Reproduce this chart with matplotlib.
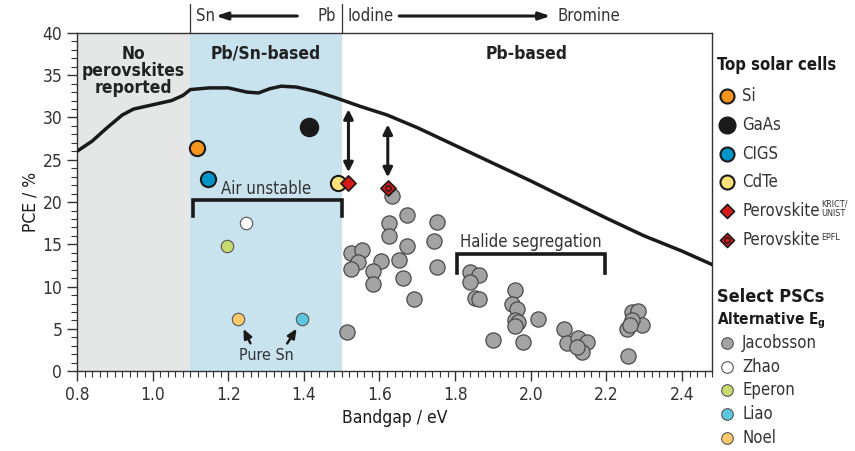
import matplotlib

matplotlib.use("Agg")
import matplotlib.pyplot as plt
from matplotlib import font_manager
from matplotlib.ticker import MultipleLocator
from matplotlib.transforms import blended_transform_factory

# Shockley-Queisser style limit curve
sq_eg = [0.80, 0.84, 0.88, 0.92, 0.95, 1.00, 1.05, 1.08, 1.10, 1.15, 1.20, 1.25,
         1.28, 1.31, 1.34, 1.38, 1.43, 1.48, 1.55, 1.62, 1.70, 1.80, 1.90, 2.00,
         2.10, 2.20, 2.30, 2.40, 2.48]
sq_pce = [26.0, 27.2, 28.8, 30.3, 31.0, 31.5, 32.0, 32.6, 33.3, 33.5, 33.5, 33.0,
          32.9, 33.4, 33.7, 33.6, 33.1, 32.4, 31.3, 30.3, 28.8, 26.7, 24.6, 22.5,
          20.3, 18.1, 16.0, 14.2, 12.6]

# Top solar cells
top_names = ["Si", "GaAs", "CIGS", "CdTe", "KRICT", "EPFL"]
top_eg = [1.118, 1.414, 1.147, 1.491, 1.518, 1.622]
top_pce = [26.4, 28.9, 22.7, 22.2, 22.2, 21.7]

# Select PSCs (Jacobsson)
jac_eg = [1.633, 1.672, 1.624, 1.624, 1.752, 1.743, 1.672, 1.524, 1.555, 1.544,
          1.524, 1.603, 1.584, 1.653, 1.752, 1.584, 1.662, 1.692, 1.515,
          1.840, 1.862, 1.840, 1.853, 1.862, 1.959, 1.950, 1.963, 1.959, 1.967,
          1.959, 2.018, 1.901, 1.979, 2.088, 2.095, 2.126, 2.148, 2.135, 2.122,
          2.267, 2.285, 2.294, 2.267, 2.254, 2.262, 2.256]
jac_pce = [20.7, 18.5, 17.5, 16.0, 17.6, 15.4, 14.8, 14.0, 14.3, 12.9,
           12.1, 13.05, 11.8, 13.2, 12.3, 10.3, 11.0, 8.5, 4.65,
           11.75, 11.4, 10.6, 8.7, 8.5, 9.6, 7.9, 7.4, 6.1, 5.8,
           5.4, 6.2, 3.7, 3.5, 5.0, 3.3, 3.9, 3.5, 2.3, 2.9,
           7.0, 7.1, 5.5, 6.0, 5.0, 5.5, 1.8]

# Other alternative-bandgap PSCs
alt_names = ["Zhao", "Eperon", "Liao", "Noel"]
alt_eg = [1.247, 1.198, 1.396, 1.227]
alt_pce = [17.5, 14.8, 6.15, 6.2]

x_ticks = [0.8, 1.0, 1.2, 1.4, 1.6, 1.8, 2.0, 2.2, 2.4]
y_ticks = [0, 5, 10, 15, 20, 25, 30, 35, 40]

names = {f.name for f in font_manager.fontManager.ttflist}
FONT = "Liberation Sans Narrow" if "Liberation Sans Narrow" in names else "DejaVu Sans"
plt.rcParams["font.family"] = FONT
plt.rcParams["font.stretch"] = "condensed"
plt.rcParams["font.size"] = 11

TXT = "#333333"
top_style = {
    "Si": dict(marker="o", s=120, fc="#F7941D", ec="#1a1a1a", lw=1.5),
    "GaAs": dict(marker="o", s=170, fc="#1a1a1a", ec="#1a1a1a", lw=1.0),
    "CIGS": dict(marker="o", s=120, fc="#0095C6", ec="#1a1a1a", lw=1.5),
    "CdTe": dict(marker="o", s=120, fc="#FFE07A", ec="#1a1a1a", lw=1.5),
    "KRICT": dict(marker="D", s=60, fc="#D7191C", ec="#1a1a1a", lw=1.2),
    "EPFL": dict(marker="D", s=60, fc="#D7191C", ec="#1a1a1a", lw=1.2),
}
alt_colors = {"Zhao": "#FFFFFF", "Eperon": "#C8DB6E", "Liao": "#5CC6DE", "Noel": "#FDC96C"}
JAC_FC = "#A3A3A3"
JAC_EC = "#4a4a4a"

fig = plt.figure(figsize=(8.55, 4.51), dpi=100)
ax = fig.add_axes([0.090, 0.177, 0.743, 0.750])

ax.set_xlim(0.8, 2.48)
ax.set_ylim(0, 40)

ax.axvspan(0.8, 1.1, color="#E5E6E6", zorder=0, lw=0)
ax.axvspan(1.1, 1.5, color="#C9E3EE", zorder=0, lw=0)

ax.plot(sq_eg, sq_pce, color="#1a1a1a", lw=2.5, zorder=3, solid_capstyle="round")

# gaps to the limit
for xg, y0, y1 in [(1.518, 23.2, 31.3), (1.622, 22.6, 29.5)]:
    ax.annotate("", xy=(xg, y1), xytext=(xg, y0),
                arrowprops=dict(arrowstyle="<|-|>,head_width=0.25,head_length=0.5",
                                color="#1a1a1a", lw=2.2), zorder=4)

ax.scatter(jac_eg, jac_pce, s=120, facecolor=JAC_FC, edgecolor=JAC_EC, lw=0.9, zorder=5)
for n, xv, yv in zip(alt_names, alt_eg, alt_pce):
    ax.scatter([xv], [yv], s=80, facecolor=alt_colors[n], edgecolor="#555555", lw=0.8, zorder=5)
for n, xv, yv in zip(top_names, top_eg, top_pce):
    st = top_style[n]
    ax.scatter([xv], [yv], s=st["s"], marker=st["marker"], facecolor=st["fc"],
               edgecolor=st["ec"], lw=st["lw"], zorder=6)
    if n == "EPFL":
        ax.scatter([xv], [yv], s=14, marker="o", facecolor="#D7191C",
                   edgecolor="#1a1a1a", lw=1.0, zorder=7)


def bracket(x0, x1, ytop, ybot):
    ax.plot([x0, x0, x1, x1], [ybot, ytop, ytop, ybot], color="#1a1a1a", lw=2.6,
            solid_joinstyle="miter", zorder=4)


bracket(1.108, 1.500, 20.3, 18.3)
ax.text(1.30, 21.6, "Air unstable", ha="center", va="center", fontsize=12, color=TXT)
bracket(1.804, 2.197, 13.85, 11.6)
ax.text(2.0, 15.3, "Halide segregation", ha="center", va="center", fontsize=12, color=TXT)

ax.text(1.30, 1.9, "Pure Sn", ha="center", va="center", fontsize=11.5, color=TXT)
for (xa, ya), (xb, yb) in [((1.262, 3.0), (1.237, 5.3)), ((1.352, 3.0), (1.385, 5.3))]:
    ax.annotate("", xy=(xb, yb), xytext=(xa, ya),
                arrowprops=dict(arrowstyle="-|>,head_width=0.22,head_length=0.5",
                                color="#1a1a1a", lw=1.8))

ax.text(0.95, 38.6, "No\nperovskites\nreported", ha="center", va="top", fontsize=12.5,
        fontweight="bold", color="#222222", linespacing=0.95)
ax.text(1.30, 38.6, "Pb/Sn-based", ha="center", va="top", fontsize=12.5,
        fontweight="bold", color="#222222")
ax.text(1.99, 38.6, "Pb-based", ha="center", va="top", fontsize=12.5,
        fontweight="bold", color="#222222")

# header above the axes
tr = blended_transform_factory(ax.transData, ax.transAxes)
for xs in [1.1, 1.5]:
    ax.plot([xs, xs], [1.0, 1.085], transform=tr, color=TXT, lw=0.9, clip_on=False)
yh = 1.05
ax.text(1.115, yh, "Sn", transform=tr, ha="left", va="center", fontsize=12, color=TXT)
ax.text(1.485, yh, "Pb", transform=tr, ha="right", va="center", fontsize=12, color=TXT)
ax.annotate("", xy=(1.16, yh), xytext=(1.39, yh), xycoords=tr, textcoords=tr,
            arrowprops=dict(arrowstyle="-|>,head_width=0.2,head_length=0.6",
                            color="#1a1a1a", lw=2.2))
ax.text(1.515, yh, "Iodine", transform=tr, ha="left", va="center", fontsize=12, color=TXT)
ax.text(2.07, yh, "Bromine", transform=tr, ha="left", va="center", fontsize=12, color=TXT)
ax.annotate("", xy=(2.06, yh), xytext=(1.645, yh), xycoords=tr, textcoords=tr,
            arrowprops=dict(arrowstyle="-|>,head_width=0.2,head_length=0.6",
                            color="#1a1a1a", lw=2.2))

ax.set_xticks(x_ticks)
ax.set_xticklabels([f"{v:.1f}" for v in x_ticks])
ax.set_yticks(y_ticks)
ax.xaxis.set_minor_locator(MultipleLocator(0.02))
ax.yaxis.set_minor_locator(MultipleLocator(1))
ax.tick_params(which="major", direction="out", length=7, width=1.0, labelsize=12.5,
               colors=TXT)
ax.tick_params(which="minor", direction="out", length=4, width=0.8, colors=TXT)
ax.tick_params(top=False, right=False, which="both")
for sp in ax.spines.values():
    sp.set_color(TXT)
    sp.set_linewidth(1.0)
ax.set_xlabel("Bandgap / eV", fontsize=12.5, color="#1a1a1a", labelpad=4)
ax.set_ylabel("PCE / %", fontsize=12.5, color="#1a1a1a", labelpad=2)

# legend panel (pixel coordinates)
lax = fig.add_axes([0, 0, 1, 1], facecolor="none")
lax.set_xlim(0, 855)
lax.set_ylim(451, 0)
lax.axis("off")

MX, TX = 727, 742
lax.text(717, 65, "Top solar cells", ha="left", va="center", fontsize=12,
         fontweight="bold", color="#1a1a1a")
top_labels = ["Si", "GaAs", "CIGS", "CdTe", "Perovskite", "Perovskite"]
renderer = fig.canvas.get_renderer()
for i, (n, lab) in enumerate(zip(top_names, top_labels)):
    yy = 96 + i * 28.8
    st = top_style[n]
    lax.scatter([MX], [yy], s=st["s"] * 0.85, marker=st["marker"], facecolor=st["fc"],
                edgecolor=st["ec"], lw=st["lw"])
    if n == "EPFL":
        lax.scatter([MX], [yy], s=14, marker="o", facecolor="#D7191C",
                    edgecolor="#1a1a1a", lw=1.0)
    t = lax.text(TX, yy, lab, ha="left", va="center", fontsize=12, color=TXT)
    if n in ("KRICT", "EPFL"):
        bb = t.get_window_extent(renderer)
        xe = lax.transData.inverted().transform((bb.x1, bb.y0))[0] + 2
        if n == "KRICT":
            lax.text(xe, yy - 3, "KRICT/", ha="left", va="bottom", fontsize=6.5, color=TXT)
            lax.text(xe, yy - 2, "UNIST", ha="left", va="top", fontsize=6.5, color=TXT)
        else:
            lax.text(xe, yy - 2, "EPFL", ha="left", va="center", fontsize=6.5, color=TXT)

lax.text(717, 297, "Select PSCs", ha="left", va="center", fontsize=13,
         fontweight="bold", color="#1a1a1a")
lax.text(717, 321, r"Alternative E$_\mathregular{g}$", ha="left", va="center", fontsize=11,
         fontweight="bold", color="#1a1a1a")
psc_labels = ["Jacobsson"] + alt_names
psc_colors = [JAC_FC] + [alt_colors[n] for n in alt_names]
for i, (lab, c) in enumerate(zip(psc_labels, psc_colors)):
    yy = 343 + i * 23.7
    lax.scatter([MX], [yy], s=70, facecolor=c, edgecolor="#555555", lw=0.8)
    lax.text(TX, yy, lab, ha="left", va="center", fontsize=12, color=TXT)

fig.savefig("out.png", dpi=100)
